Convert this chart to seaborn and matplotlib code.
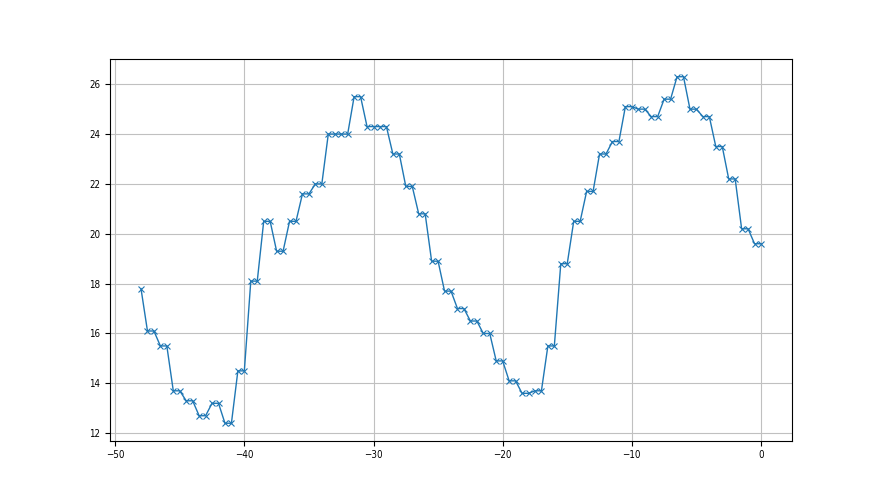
import numpy as np
import pandas as pd
import matplotlib
matplotlib.use("Agg")
import matplotlib.pyplot as plt
import seaborn as sns

x_values = [-48.0] + [v for k in range(-47, 1) for v in (k - 0.5, float(k))]
first_value = [17.8]
pair_values = [16.1, 15.5, 13.7, 13.3, 12.7, 13.2, 12.4, 14.5, 18.1, 20.5,
               19.3, 20.5, 21.6, 22.0, 24.0, 24.0, 25.5, 24.3, 24.3, 23.2,
               21.9, 20.8, 18.9, 17.7, 17.0, 16.5, 16.0, 14.9, 14.1, 13.6,
               13.7, 15.5, 18.8, 20.5, 21.7, 23.2, 23.7, 25.1, 25.0, 24.7,
               25.4, 26.3, 25.0, 24.7, 23.5, 22.2, 20.2, 19.6]
y_values = first_value + [v for p in pair_values for v in (p, p)]

df = pd.DataFrame({"x": x_values, "y": y_values})

fig, ax = plt.subplots(figsize=(8.8, 4.95), dpi=100)
sns.lineplot(data=df, x="x", y="y", marker="x", color="#1f77b4",
             linewidth=1.0, markersize=4, markeredgewidth=0.8,
             markeredgecolor="#1f77b4", ax=ax)
ax.set_xlabel("")
ax.set_ylabel("")
ax.grid(True, color="#c0c0c0", linewidth=0.8)
ax.set_xticks([-50, -40, -30, -20, -10, 0])
ax.set_yticks([12, 14, 16, 18, 20, 22, 24, 26])
ax.tick_params(labelsize=7)
for lab in ax.get_xticklabels() + ax.get_yticklabels():
    lab.set_fontstretch("condensed")
fig.savefig("out.png", dpi=100)
